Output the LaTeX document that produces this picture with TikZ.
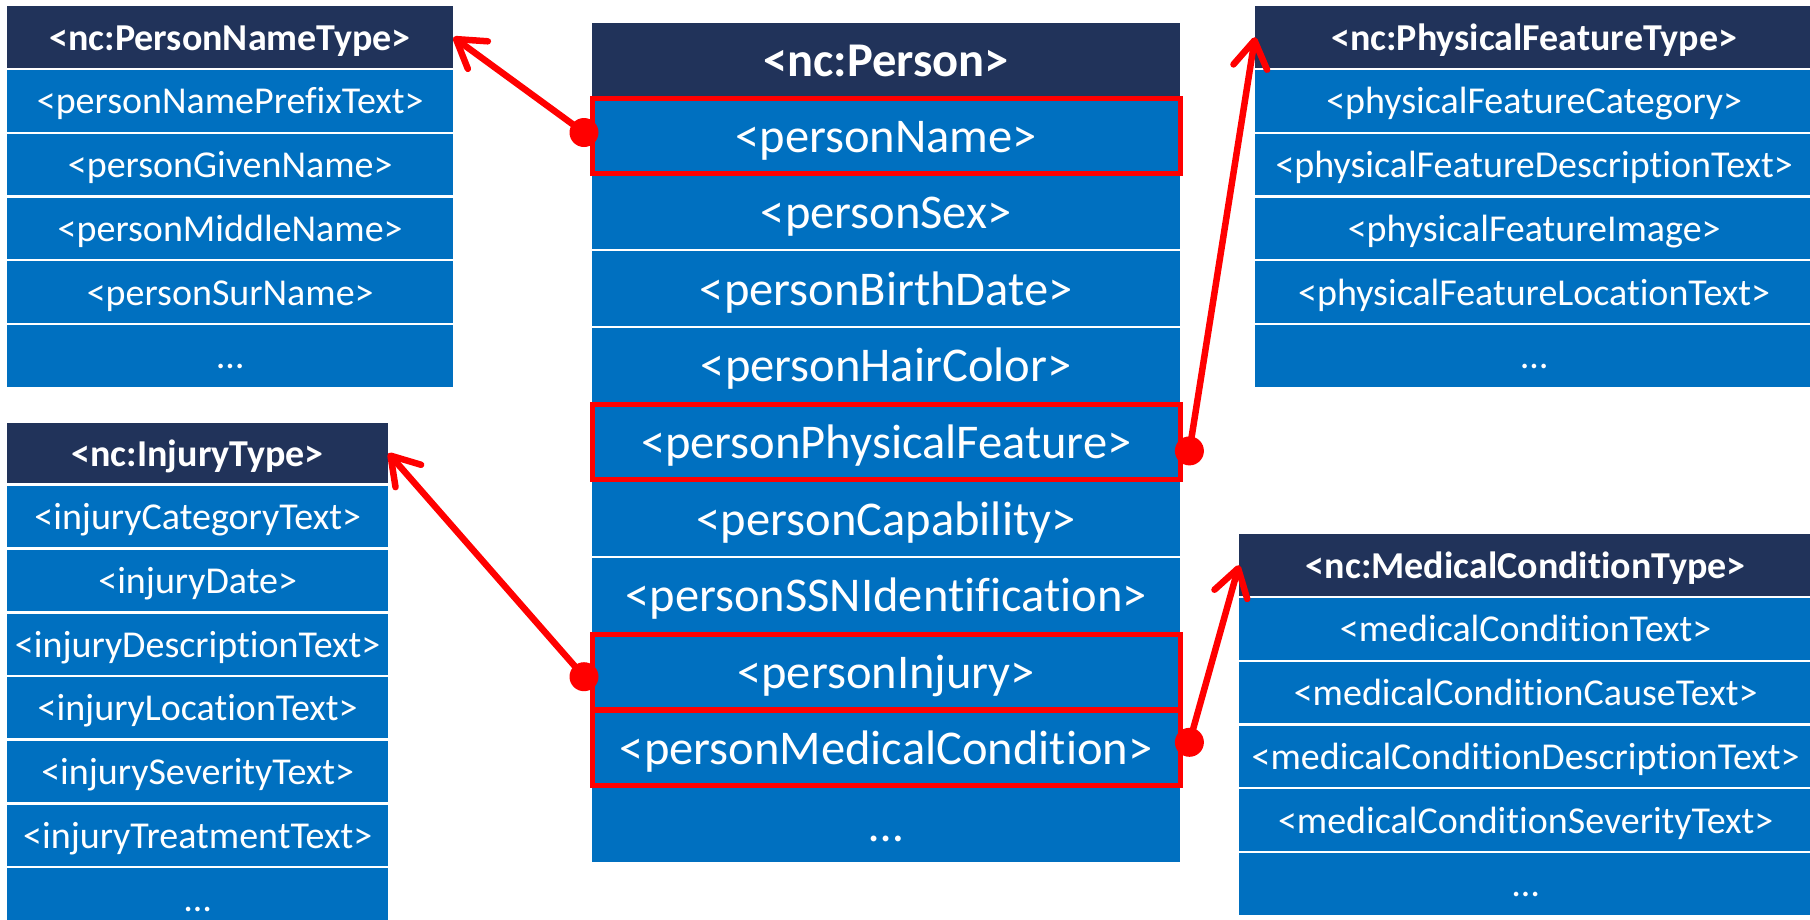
\documentclass[tikz,border=0pt]{standalone}
\usepackage{fontspec}
\setmainfont{Carlito}[Ligatures={NoCommon}]
\usetikzlibrary{arrows.meta}
\definecolor{navy}{RGB}{33,51,90}
\definecolor{rowblue}{RGB}{0,112,192}
\definecolor{hlred}{RGB}{255,0,0}
\tikzset{
  cell/.style={rectangle, inner sep=0pt, anchor=north west, text=white, fill=rowblue},
  hdr/.style={cell, fill=navy, font=\bfseries},
  sfont/.style={font=\fontsize{38}{40}\selectfont, text height=31pt, text depth=5pt},
  sbfont/.style={font=\bfseries\fontsize{38}{40}\selectfont, text height=31pt, text depth=5pt},
  bfont/.style={font=\fontsize{48.5}{52}\selectfont, text height=39pt, text depth=6pt},
  bbfont/.style={font=\bfseries\fontsize{48.5}{52}\selectfont, text height=39pt, text depth=6pt},
  hl/.style={draw=hlred, line width=5pt},
  dot/.style={circle, fill=hlred, inner sep=0pt, minimum size=29pt},
  conn/.style={draw=hlred, line width=6.5pt, line cap=round, -{Straight Barb[length=27pt,width=34pt,round]}}
}
\begin{document}
\begin{tikzpicture}[x=1pt,y=-1pt]
\useasboundingbox (0,0) rectangle (1810,919);
\clip (0,0) rectangle (1810,919);
% PersonNameType
\node[hdr, sbfont, minimum width=446pt, minimum height=62pt] (pnt0) at (7,6) {<nc:PersonNameType>};
\foreach \t [count=\i] in {{<personNamePrefixText>},{<personGivenName>},{<personMiddleName>},{<personSurName>},{…}}
  \node[cell, sfont, minimum width=446pt, minimum height=61.5pt] (pnt\i) at (7,{70+63.75*(\i-1)}) {\t};
% InjuryType
\node[hdr, sbfont, minimum width=381pt, minimum height=60pt] (inj0) at (7,423) {<nc:InjuryType>};
\foreach \t [count=\i] in {{<injuryCategoryText>},{<injuryDate>},{<injuryDescriptionText>},{<injuryLocationText>},{<injurySeverityText>},{<injuryTreatmentText>},{…}}
  \node[cell, sfont, minimum width=381pt, minimum height=61pt] (inj\i) at (7,{486+63.67*(\i-1)}) {\t};
% Person
\node[hdr, bbfont, minimum width=588pt, minimum height=73pt] (per0) at (592,23) {<nc:Person>};
\foreach \t [count=\i] in {{<personName>},{<personSex>},{<personBirthDate>},{<personHairColor>},{<personPhysicalFeature>},{<personCapability>},{<personSSNIdentification>},{<personInjury>},{<personMedicalCondition>},{…}}
  \node[cell, bfont, minimum width=588pt, minimum height=74.6pt] (per\i) at (592,{98+76.6*(\i-1)}) {\t};
% PhysicalFeatureType
\node[hdr, sbfont, minimum width=558pt, minimum height=62pt] (pft0) at (1255,6) {<nc:PhysicalFeatureType>};
\foreach \t [count=\i] in {{<physicalFeatureCategory>},{<physicalFeatureDescriptionText>},{<physicalFeatureImage>},{<physicalFeatureLocationText>},{…}}
  \node[cell, sfont, minimum width=558pt, minimum height=61.5pt] (pft\i) at (1255,{70+63.75*(\i-1)}) {\t};
% MedicalConditionType
\node[hdr, sbfont, minimum width=573pt, minimum height=62pt] (mct0) at (1239,534) {<nc:MedicalConditionType>};
\foreach \t [count=\i] in {{<medicalConditionText>},{<medicalConditionCauseText>},{<medicalConditionDescriptionText>},{<medicalConditionSeverityText>},{…}}
  \node[cell, sfont, minimum width=573pt, minimum height=61.5pt] (mct\i) at (1239,{598+63.75*(\i-1)}) {\t};
% highlights
\foreach \n in {per1,per5,per8,per9}
  \draw[hl] (\n.north west) rectangle (\n.south east);
% dots
\node[dot] (d1) at ([shift={(-8,-3)}]per1.west) {};
\node[dot] (d2) at ([shift={(9,9)}]per5.east) {};
\node[dot] (d3) at ([shift={(-8,5)}]per8.west) {};
\node[dot] (d4) at ([shift={(9,-6)}]per9.east) {};
% connectors
\draw[conn] (d1.center) -- (pnt0.east);
\draw[conn] (d2.center) -- (pft0.west);
\draw[conn] (d3.center) -- (inj0.east);
\draw[conn] (d4.center) -- (mct0.west);
\end{tikzpicture}
\end{document}
